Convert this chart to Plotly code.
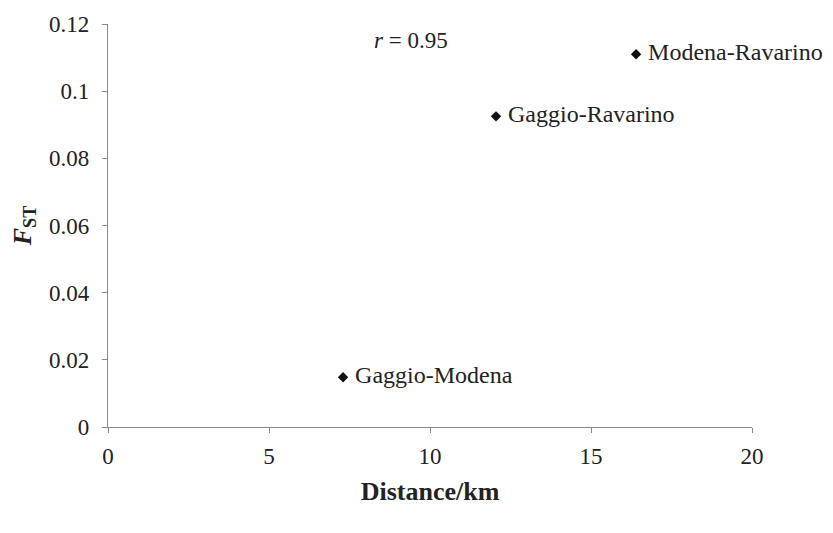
import plotly.graph_objects as go

pairs = ["Gaggio-Modena", "Gaggio-Ravarino", "Modena-Ravarino"]
distance_km = [7.3, 12.05, 16.4]
fst = [0.0148, 0.0925, 0.111]
x_ticks = [0, 5, 10, 15, 20]
y_ticks = [0, 0.02, 0.04, 0.06, 0.08, 0.1, 0.12]

FONT = "'Liberation Serif', 'Times New Roman', 'DejaVu Serif', serif"
AXC = "#8a8a8a"

fig = go.Figure()
fig.add_trace(go.Scatter(
    x=distance_km, y=fst, mode="markers+text",
    text=[" " + p for p in pairs], textposition="middle right",
    textfont=dict(family=FONT, size=24, color="#222"),
    marker=dict(symbol="diamond", size=8, color="#111"),
    cliponaxis=False, showlegend=False, hoverinfo="skip"))

fig.add_annotation(x=8.2, xref="x", xanchor="left", y=0.1152, yref="y", yanchor="middle",
                   text="<i>r</i> = 0.95", showarrow=False,
                   font=dict(family=FONT, size=23, color="#222"))

fig.update_layout(
    width=825, height=525,
    margin=dict(l=100, r=81, t=16, b=106, autoexpand=False),
    paper_bgcolor="white", plot_bgcolor="white",
    font=dict(family=FONT, color="#222"),
    xaxis=dict(range=[0, 20], tickvals=x_ticks, showgrid=False, zeroline=False,
               automargin=False,
               showline=True, linecolor=AXC, linewidth=1.2, ticks="outside",
               ticklen=5, tickcolor=AXC, ticklabelstandoff=3,
               tickfont=dict(family=FONT, size=23, color="#222"),
               title=dict(text="<b>Distance/km</b>", standoff=14,
                          font=dict(family=FONT, size=26, color="#222"))),
    yaxis=dict(range=[0, 0.12], tickvals=y_ticks, showgrid=False, zeroline=False,
               automargin=False,
               showline=True, linecolor=AXC, linewidth=1.2, ticks="outside",
               ticklen=5, tickcolor=AXC, ticklabelstandoff=8,
               tickfont=dict(family=FONT, size=23, color="#222"),
               title=dict(text="<b><i>F</i><sub>ST</sub></b>", standoff=12,
                          font=dict(family=FONT, size=26, color="#222"))),
)

fig.write_html("out.html")
